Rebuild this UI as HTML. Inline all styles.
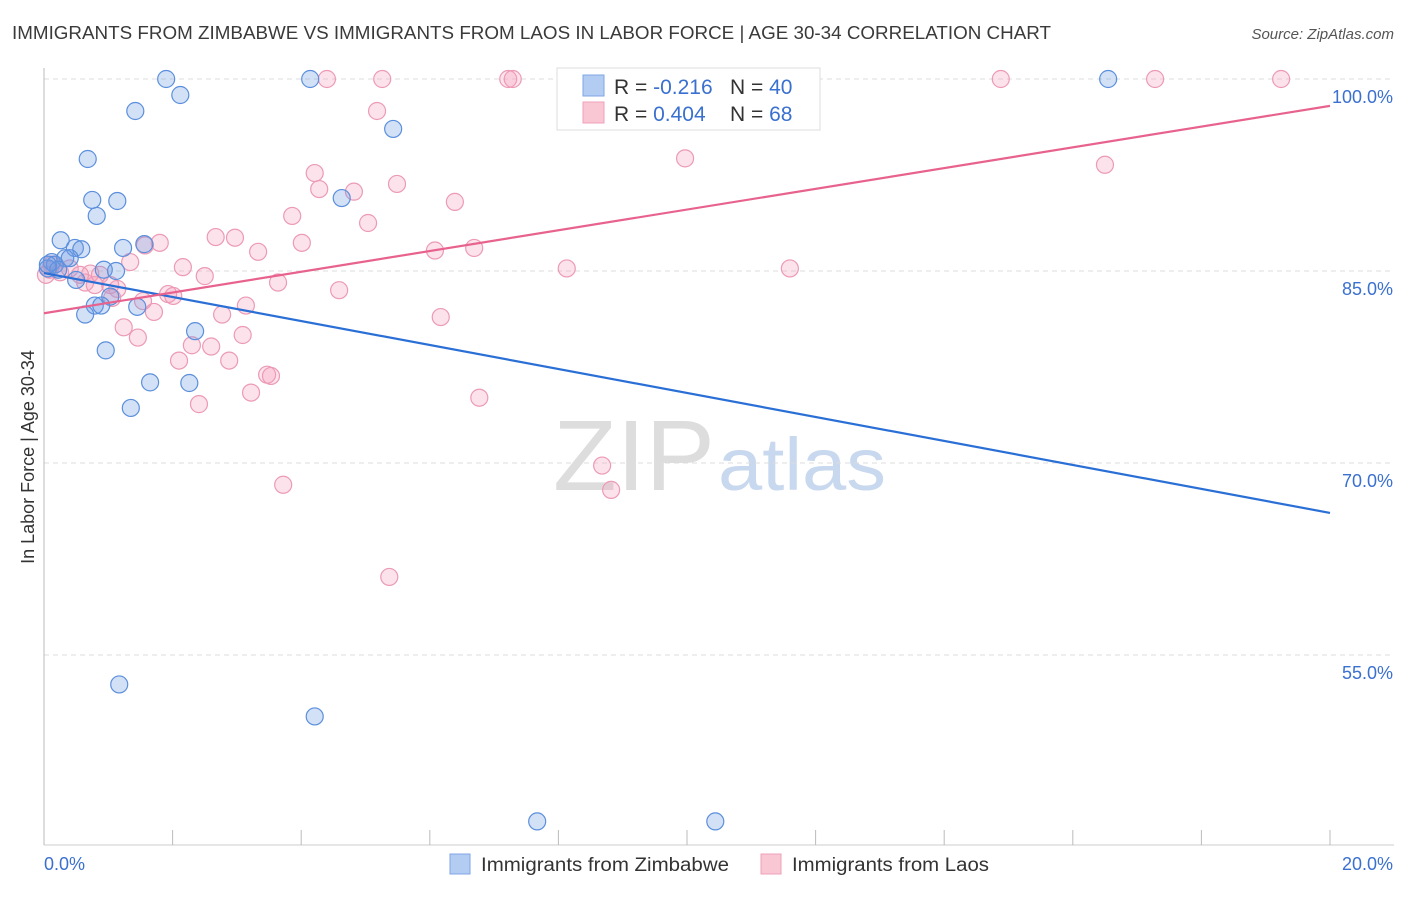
<!DOCTYPE html>
<html><head><meta charset="utf-8"><style>
body{margin:0;background:#fff;font-family:"Liberation Sans",sans-serif;}
svg text{font-family:"Liberation Sans",sans-serif;}
</style></head><body>
<svg id="chart" width="1406" height="892" viewBox="0 0 1406 892">
<text x="12" y="39" font-size="18" fill="#3a3a3a" textLength="1039" lengthAdjust="spacingAndGlyphs">IMMIGRANTS FROM ZIMBABWE VS IMMIGRANTS FROM LAOS IN LABOR FORCE | AGE 30-34 CORRELATION CHART</text>
<text x="1394" y="39" font-size="15" fill="#555" text-anchor="end" font-style="italic">Source: ZipAtlas.com</text>
<text x="553" y="490" font-size="100" fill="#ddd" font-family="Liberation Serif" textLength="162" lengthAdjust="spacingAndGlyphs">ZIP</text>
<text x="718" y="490" font-size="74" fill="#c8d8ee" textLength="168" lengthAdjust="spacingAndGlyphs">atlas</text>
<g id="grid"></g>
<g id="axes"></g>
<g id="pts"></g>
<g id="lines"></g>
<text transform="translate(34,457) rotate(-90)" font-size="18" fill="#333" text-anchor="middle">In Labor Force | Age 30-34</text>
<g>
<rect x="557" y="68" width="263" height="62" fill="#fff" stroke="#ddd"/>
<rect x="583" y="75" width="21" height="21" fill="#b3ccf2" stroke="#7fa6e6"/>
<rect x="583" y="102" width="21" height="21" fill="#f9c6d4" stroke="#eea0b8"/>
<text x="614" y="94" font-size="21" fill="#333">R = <tspan fill="#3a70cf">-0.216</tspan></text>
<text x="730" y="94" font-size="21" fill="#333">N = <tspan fill="#3a70cf">40</tspan></text>
<text x="614" y="121" font-size="21" fill="#333">R = <tspan fill="#3a70cf">0.404</tspan></text>
<text x="730" y="121" font-size="21" fill="#333">N = <tspan fill="#3a70cf"> 68</tspan></text>
</g>
<g>
<rect x="450" y="854" width="20" height="20" fill="#b3ccf2" stroke="#7fa6e6"/>
<text x="481" y="871" font-size="19" fill="#333" textLength="248" lengthAdjust="spacingAndGlyphs">Immigrants from Zimbabwe</text></g>
<g>
<rect x="761" y="854" width="20" height="20" fill="#f9c6d4" stroke="#eea0b8"/>
<text x="792" y="871" font-size="19" fill="#333" textLength="197" lengthAdjust="spacingAndGlyphs">Immigrants from Laos</text></g>
</svg>
<script>
const yTicks=[100,85,70,55];
const yTickLabels=["100.0%","85.0%","70.0%","55.0%"];
const xTickLabels=["0.0%","20.0%"];
const blueX=[1.90,4.14,16.55,2.12,1.42,5.43,0.68,0.75,1.14,0.82,4.63,0.26,0.48,0.58,1.23,1.56,0.12,0.17,0.33,0.40,0.06,0.22,0.93,1.12,0.50,1.03,0.79,0.89,1.45,0.64,2.35,0.96,1.65,2.26,1.35,1.17,4.21,7.67,10.44,0.06];
const blueY=[100,100,100,98.75,97.5,96.1,93.75,90.55,90.47,89.3,90.7,87.4,86.8,86.7,86.8,87.1,85.7,85.5,86.0,86.0,85.2,85.1,85.1,85.0,84.3,83.0,82.3,82.3,82.2,81.6,80.3,78.8,76.3,76.25,74.3,52.7,50.2,42.0,42.0,85.5];
const pinkX=[4.40,5.26,7.22,7.29,14.88,17.28,19.24,5.18,9.97,16.50,4.21,4.28,4.82,5.49,6.39,3.86,5.04,2.67,2.97,4.01,1.80,1.57,6.08,6.69,3.33,1.34,2.16,2.50,8.13,11.60,3.64,4.59,1.14,1.93,2.01,1.54,1.06,3.14,1.71,2.77,6.17,1.24,3.09,1.46,2.60,2.30,2.10,2.88,3.47,3.53,3.22,6.77,2.41,8.68,3.72,8.82,5.37,0.09,0.03,0.25,0.40,0.64,0.87,0.72,0.56,0.79,1.03,0.12];
const pinkY=[100,100,100,100,100,100,100,97.5,93.8,93.3,92.65,91.4,91.2,91.8,90.4,89.3,88.75,87.65,87.6,87.2,87.2,87.0,86.6,86.8,86.5,85.7,85.3,84.6,85.2,85.2,84.1,83.5,83.6,83.2,83.05,82.65,82.9,82.3,81.8,81.6,81.4,80.6,80.0,79.8,79.1,79.2,78.0,78.0,76.9,76.8,75.5,75.1,74.6,69.8,68.3,67.9,61.1,85.1,84.7,84.9,85.2,84.1,84.7,84.8,84.7,83.9,83.9,85.5];
const blueTrend=[84.84,66.1];
const pinkTrend=[81.7,97.9];
const NS="http://www.w3.org/2000/svg";
const X=v=>44+v*64.3;
const Y=v=>79+(100-v)*12.8;
function mk(tag,attrs,parent){const e=document.createElementNS(NS,tag);for(const k in attrs)e.setAttribute(k,attrs[k]);document.getElementById(parent).appendChild(e);return e;}
yTicks.forEach((t,i)=>{
 const l=mk('line',{x1:44,x2:1394,y1:Y(t),y2:Y(t),stroke:'#ddd','stroke-dasharray':'5,4'},'grid');
 
 
 const tx=mk('text',{x:1393,y:Y(t)+24,'font-size':18,fill:'#3a70cf','text-anchor':'end'},'grid');
 tx.textContent=yTickLabels[i];
 
 
});
const ax=mk('line',{x1:44,x2:44,y1:68,y2:845,stroke:'#bbb'},'axes');


const bx=mk('line',{x1:44,x2:1394,y1:845,y2:845,stroke:'#ccc'},'axes');


for(let i=0;i<=10;i++){const t=mk('line',{x1:X(i*2),x2:X(i*2),y1:830,y2:845,stroke:'#bbb'},'axes');
 
 }
[[0,'start',44],[20,'end',1393]].forEach((a,i)=>{const t=mk('text',{x:a[2],y:870,'font-size':18,fill:'#3a70cf','text-anchor':a[1]},'axes');t.textContent=xTickLabels[i];
 
 });
function pts(xs,ys,fill,stroke,name){xs.forEach((x,i)=>{const c=mk('circle',{cx:X(x),cy:Y(ys[i]),r:8.5,fill:fill,stroke:stroke,'stroke-width':1.2},'pts');
 
 });}
pts(pinkX,pinkY,'rgba(244,160,188,0.3)','#ec9ab5','laos-point');
pts(blueX,blueY,'rgba(110,155,230,0.3)','#5b8fdc','zimbabwe-point');
const bl=mk('line',{x1:X(0),x2:X(20),y1:Y(blueTrend[0]),y2:Y(blueTrend[1]),stroke:'#2a6fd6','stroke-width':2.2},'lines');


const pl=mk('line',{x1:X(0),x2:X(20),y1:Y(pinkTrend[0]),y2:Y(pinkTrend[1]),stroke:'#e8628e','stroke-width':2.2},'lines');


</script>
</body></html>
